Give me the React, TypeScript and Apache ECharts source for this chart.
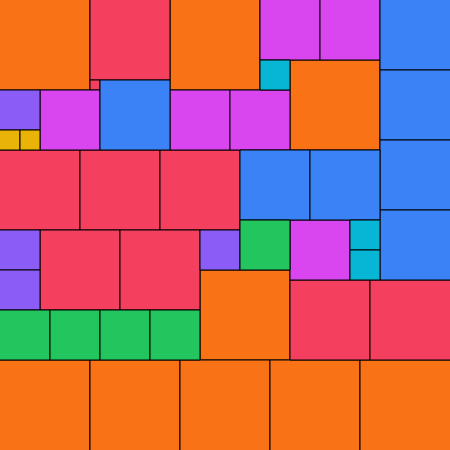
import React, { useEffect, useRef } from "react";
import * as echarts from "echarts";

// Each cell: [x0, y0, x1, y1]
const orangeCells = [
  [0, 0, 90, 90], [170, 0, 260, 90], [290, 60, 380, 150], [200, 270, 290, 360],
  [0, 360, 90, 450], [90, 360, 180, 450], [180, 360, 270, 450], [270, 360, 360, 450], [360, 360, 450, 450],
];
const redCells = [
  [90, 0, 170, 80], [90, 80, 100, 90],
  [0, 150, 80, 230], [80, 150, 160, 230], [160, 150, 240, 230],
  [40, 230, 120, 310], [120, 230, 200, 310],
  [290, 280, 370, 360], [370, 280, 450, 360],
];
const magentaCells = [
  [260, 0, 320, 60], [320, 0, 380, 60], [40, 90, 100, 150], [170, 90, 230, 150], [230, 90, 290, 150], [290, 220, 350, 280],
];
const blueCells = [
  [380, 0, 450, 70], [380, 70, 450, 140], [380, 140, 450, 210], [380, 210, 450, 280],
  [100, 80, 170, 150], [240, 150, 310, 220], [310, 150, 380, 220],
];
const cyanCells = [[260, 60, 290, 90], [350, 220, 380, 250], [350, 250, 380, 280]];
const purpleCells = [[0, 90, 40, 130], [0, 230, 40, 270], [0, 270, 40, 310], [200, 230, 240, 270]];
const yellowCells = [[0, 130, 20, 150], [20, 130, 40, 150]];
const greenCells = [[240, 220, 290, 270], [0, 310, 50, 360], [50, 310, 100, 360], [100, 310, 150, 360], [150, 310, 200, 360]];

const EXTENT = 450;

const groups = [
  { cells: orangeCells, color: "#f97316" },
  { cells: redCells, color: "#f43f5e" },
  { cells: magentaCells, color: "#d946ef" },
  { cells: blueCells, color: "#3b82f6" },
  { cells: cyanCells, color: "#06b6d4" },
  { cells: purpleCells, color: "#8b5cf6" },
  { cells: yellowCells, color: "#eab308" },
  { cells: greenCells, color: "#22c55e" },
];

export default function App() {
  const ref = useRef<HTMLDivElement>(null);
  useEffect(() => {
    const chart = echarts.init(ref.current!, null, { renderer: "svg" });
    const data: any[] = [];
    groups.forEach((g, gi) => g.cells.forEach((c) => data.push([c[0], c[1], c[2], c[3], gi])));
    chart.setOption({
      animation: false,
      grid: { left: 0, right: 0, top: 0, bottom: 0 },
      xAxis: { type: "value", min: 0, max: EXTENT, show: false },
      yAxis: { type: "value", min: 0, max: EXTENT, inverse: true, show: false },
      series: [
        {
          type: "custom",
          data,
          clip: false,
          encode: { x: [0, 2], y: [1, 3] },
          renderItem: (params: any, api: any) => {
            const p0 = api.coord([api.value(0), api.value(1)]);
            const p1 = api.coord([api.value(2), api.value(3)]);
            let x0 = p0[0], y0 = p0[1], x1 = p1[0], y1 = p1[1];
            // push strokes on the outer frame outside the visible area
            if (api.value(0) === 0) x0 -= 1;
            if (api.value(1) === 0) y0 -= 1;
            if (api.value(2) === EXTENT) x1 += 1;
            if (api.value(3) === EXTENT) y1 += 1;
            return {
              type: "rect",
              shape: { x: x0, y: y0, width: x1 - x0, height: y1 - y0 },
              style: { fill: groups[api.value(4)].color, stroke: "#000", lineWidth: 1 },
            };
          },
        },
      ],
    });
    return () => chart.dispose();
  }, []);
  return (
    <div style={{ position: "fixed", left: 0, top: 0, width: 450, height: 450, overflow: "hidden" }}>
      <div ref={ref} style={{ width: 450, height: 450 }} />
    </div>
  );
}
